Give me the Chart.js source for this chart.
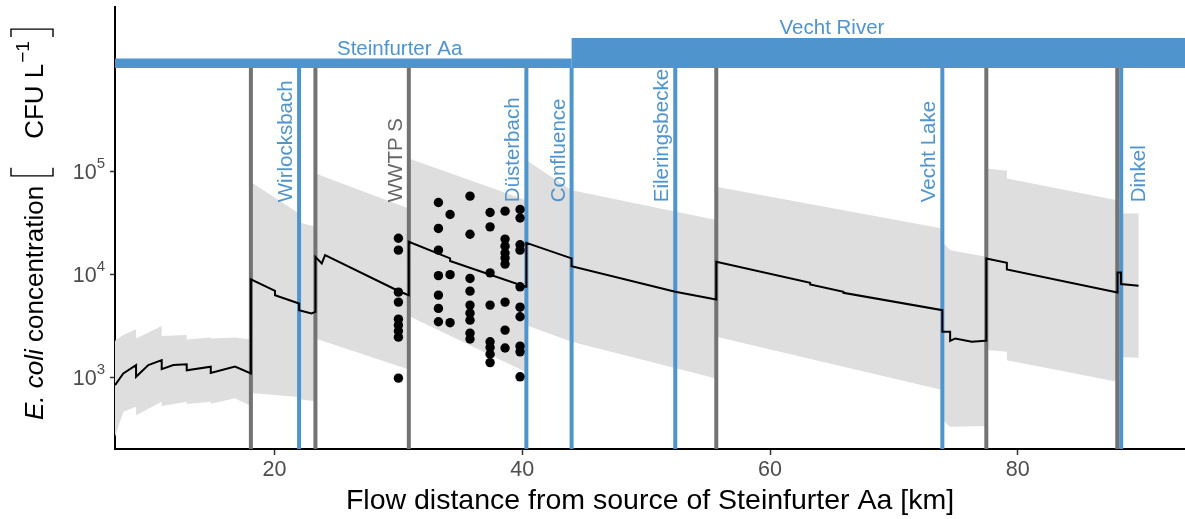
<!DOCTYPE html>
<html>
<head>
<meta charset="utf-8">
<script src="https://cdn.jsdelivr.net/npm/chart.js@4"></script>
<style>
  html, body { margin: 0; padding: 0; background: #fff; }
</style>
</head>
<body>
<canvas id="myChart" width="1185" height="519"></canvas>
<script>
// flow distance (km) along Steinfurter Aa -> Vecht, E. coli in CFU/L

// simulated median
const medianKm = [7.12, 7.79, 8.82, 8.82, 9.81, 10.89, 10.89, 11.83, 12.91, 12.91, 14.85, 14.85, 16.81, 18.09,
    18.09, 20.04, 20.04, 21.98, 21.98, 22.98, 23.30,
    23.30, 23.81, 24.08, 30.13, 30.84,
    30.84, 34.17, 34.17, 40.25, 40.33,
    40.33, 43.98, 43.98, 52.35, 55.66,
    55.66, 63.24, 63.24, 65.93, 65.93, 73.91,
    73.91, 74.54, 74.54, 74.95, 76.29, 77.37, 77.46,
    77.46, 79.12, 79.12, 88.05, 88.05, 88.33, 88.33, 89.75];
const medianConc = [848, 1100, 1325, 1020, 1325, 1480, 1210, 1325, 1350, 1180, 1280, 1110, 1280, 1100,
    8950, 6930, 6300, 5240, 4510, 4190, 4340,
    14800, 12800, 15400, 6800, 6300,
    20700, 14290, 13500, 7590, 7590,
    20200, 14300, 12000, 6800, 5730,
    13250, 8300, 7990, 6780, 6640, 4510,
    2780, 2780, 2275, 2400, 2230, 2275, 2275,
    14300, 12950, 11200, 6700, 10450, 10450, 8060, 7760];

// simulated uncertainty band
const bandKm = [7.12, 7.79, 8.82, 8.82, 10.89, 10.89, 12.91, 12.91, 14.85, 14.85, 16.81, 18.09,
    18.09, 21.98, 21.98, 23.30,
    23.30, 30.84,
    30.84, 40.33,
    40.33, 43.98, 55.66,
    55.66, 73.91,
    73.91, 74.54, 77.46,
    77.46, 79.12, 79.12, 88.03,
    88.03, 89.75];
const bandUpper = [2280, 2585, 2940, 2400, 3160, 2530, 2585, 2350, 2455, 2400, 2455, 2350,
    78700, 38900, 31800, 28900,
    95100, 43600,
    132700, 52400,
    127600, 65500, 33600,
    70500, 27900,
    20700, 17200, 14800,
    106000, 100700, 84900, 52400,
    38900, 38900];
const bandLower = [268, 468, 523, 434, 585, 531, 585, 555, 585, 560, 631, 531,
    710, 650, 620, 590,
    2400, 1200,
    3950, 1130,
    3230, 2230, 985,
    2490, 759,
    389, 335, 340,
    1850, 1780, 1480, 912,
    1590, 1560];

// measured samples
const obsKm = [30.0, 30.0, 30.0, 30.0, 30.0, 30.0, 30.0, 30.0, 30.0,
    33.23, 33.23, 33.23, 33.23, 33.23, 33.23, 33.23,
    34.17, 34.17, 34.17,
    35.78, 35.78, 35.78, 35.78, 35.78, 35.78, 35.78, 35.78, 35.78,
    37.40, 37.40, 37.40, 37.40, 37.40, 37.40, 37.40, 37.40,
    38.61, 38.61, 38.61, 38.61, 38.61, 38.61, 38.61, 38.61, 38.61,
    39.82, 39.82, 39.82, 39.82, 39.82, 39.82, 39.82, 39.82, 39.82, 39.82];
const obsConc = [22400, 17200, 6740, 5400, 3690, 3230, 2830, 2470, 990,
    49800, 27900, 17200, 9730, 6310, 4690, 3480,
    38100, 9960, 3410,
    57300, 24500, 9150, 6890, 5050, 4220, 3610, 2700, 2370,
    39800, 28900, 10360, 5050, 2230, 1960, 1690, 1400,
    41000, 22000, 18800, 16100, 14400, 12600, 5400, 2890, 1940,
    42600, 35200, 19400, 17200, 7590, 4820, 3890, 2020, 1780, 1020];

// point sources (grey) and tributaries / lake (blue)
const sourceKm = [18.09, 23.30, 30.84, 55.66, 77.46, 88.03];
const sourceNames = ['', '', 'WWTP S', '', '', ''];
const tribKm = [21.98, 40.33, 43.98, 52.35, 73.91, 88.35];
const tribNames = ['Wirlocksbach', 'Düsterbach', 'Confluence', 'Eileringsbecke', 'Vecht Lake', 'Dinkel'];
const tribSide = [-1, -1, -1, -1, -1, 1];

// river bars along the top
const riverNames = ['Steinfurter Aa', 'Vecht River'];
const riverFrom = [7.12, 43.98];
const riverTo = [43.98, 93.5];
const riverTop = [1.233e6, 1.95e6];
const riverLabelKm = [30.1, 65.0];

const xTicks = [20, 40, 60, 80];
const yTicks = [1e3, 1e4, 1e5];

const xMin = 7.12, xMax = 93.5;
const yMin = 204, yMax = 3.89e6;
const barBase = 1e6;
const labelStart = 5e4;

const FONT = "'Liberation Sans', Arial, sans-serif";
const BLUE = '#4f94cd';
const GREY = '#737373';

function pts(xs, ys) {
    return xs.map((x, i) => ({x: x, y: ys[i]}));
}

// band as closed polygon: upper forward, lower back
const bandPoly = pts(bandKm, bandUpper).concat(pts(bandKm, bandLower).reverse());

const datasets = [];
datasets.push({
    data: bandPoly, fill: 'shape', backgroundColor: '#dedede',
    borderWidth: 0, pointRadius: 0, order: 5
});
for (let i = 0; i < riverNames.length; i++) {
    datasets.push({
        data: [{x: riverFrom[i], y: barBase}, {x: riverTo[i], y: barBase},
               {x: riverTo[i], y: riverTop[i]}, {x: riverFrom[i], y: riverTop[i]}],
        fill: 'shape', backgroundColor: BLUE, borderWidth: 0, pointRadius: 0, order: 4
    });
}
sourceKm.forEach(km => {
    datasets.push({
        data: [{x: km, y: yMin / 2}, {x: km, y: barBase}],
        borderColor: GREY, borderWidth: 4, pointRadius: 0, fill: false, order: 3
    });
});
tribKm.forEach(km => {
    datasets.push({
        data: [{x: km, y: yMin / 2}, {x: km, y: barBase}],
        borderColor: BLUE, borderWidth: 4, pointRadius: 0, fill: false, order: 3
    });
});
datasets.push({
    data: pts(medianKm, medianConc), borderColor: '#000', borderWidth: 2,
    pointRadius: 0, fill: false, order: 1
});
datasets.push({
    data: pts(obsKm, obsConc), showLine: false, pointRadius: 4.7,
    pointBackgroundColor: '#000', pointBorderWidth: 0, order: 0
});

// names on the river bars and next to the vertical markers, y tick labels, y title
const annotations = {
    id: 'annotations',
    afterDatasetsDraw(chart) {
        const ctx = chart.ctx;
        const xs = chart.scales.x, ys = chart.scales.y;
        ctx.save();
        ctx.font = '20.5px ' + FONT;
        ctx.fillStyle = BLUE;
        ctx.textAlign = 'center';
        ctx.textBaseline = 'alphabetic';
        riverNames.forEach((name, i) => {
            ctx.fillText(name, xs.getPixelForValue(riverLabelKm[i]), ys.getPixelForValue(riverTop[i]) - 3.5);
        });

        const y0 = ys.getPixelForValue(labelStart);
        function vlabel(text, km, side, color) {
            const px = xs.getPixelForValue(km);
            ctx.save();
            ctx.translate(side < 0 ? px - 7 : px + 24, y0);
            ctx.rotate(-Math.PI / 2);
            ctx.fillStyle = color;
            ctx.textAlign = 'left';
            ctx.fillText(text, 0, 0);
            ctx.restore();
        }
        tribNames.forEach((n, i) => vlabel(n, tribKm[i], tribSide[i], BLUE));
        sourceNames.forEach((n, i) => { if (n) vlabel(n, sourceKm[i], -1, '#666'); });
        ctx.restore();
    },
    afterDraw(chart) {
        const ctx = chart.ctx;
        const ys = chart.scales.y;
        ctx.save();
        // 10^n tick labels
        ctx.fillStyle = '#4d4d4d';
        ctx.textAlign = 'right';
        ctx.textBaseline = 'alphabetic';
        yTicks.forEach(v => {
            const py = ys.getPixelForValue(v);
            const exp = String(Math.round(Math.log10(v)));
            ctx.font = '15px ' + FONT;
            ctx.fillText(exp, 105, py - 3.5);
            const w = ctx.measureText(exp).width;
            ctx.font = '21.5px ' + FONT;
            ctx.fillText('10', 105 - w, py + 7.7);
        });

        // rotated y title
        const size = 26;
        ctx.translate(43, 420);
        ctx.rotate(-Math.PI / 2);
        ctx.fillStyle = '#000';
        ctx.textAlign = 'left';
        let x = 0;
        ctx.font = 'italic ' + size + 'px ' + FONT;
        ctx.fillText('E. coli', x, 0);
        x += ctx.measureText('E. coli').width;
        ctx.font = size + 'px ' + FONT;
        ctx.fillText(' concentration', x, 0);
        x += ctx.measureText(' concentration').width + 10;

        // square brackets around the unit
        const top = -32, bot = 10, arm = 8;
        ctx.strokeStyle = '#000';
        ctx.lineWidth = 1.4;
        ctx.beginPath();
        ctx.moveTo(x + arm, top); ctx.lineTo(x, top); ctx.lineTo(x, bot); ctx.lineTo(x + arm, bot);
        ctx.stroke();
        x += 37;
        ctx.fillText('CFU L', x, 0);
        x += ctx.measureText('CFU L').width + 1;
        ctx.font = '19px ' + FONT;
        ctx.fillText('\u22121', x, -size * 0.55);
        x += ctx.measureText('\u22121').width + 12;
        ctx.beginPath();
        ctx.moveTo(x - arm, top); ctx.lineTo(x, top); ctx.lineTo(x, bot); ctx.lineTo(x - arm, bot);
        ctx.stroke();
        ctx.restore();
    }
};

const ctx = document.getElementById('myChart');
new Chart(ctx, {
    type: 'line',
    data: {datasets: datasets},
    plugins: [annotations],
    options: {
        responsive: false,
        animation: false,
        events: [],
        layout: {autoPadding: false, padding: {top: 7, right: 0, bottom: 0, left: 0}},
        plugins: {legend: {display: false}, tooltip: {enabled: false}},
        elements: {line: {tension: 0, borderCapStyle: 'butt'}},
        scales: {
            x: {
                type: 'linear', min: xMin, max: xMax,
                afterBuildTicks: s => { s.ticks = xTicks.map(v => ({value: v})); },
                afterFit: s => { s.height = 70; s.paddingLeft = 0; s.paddingRight = 0; },
                grid: {drawOnChartArea: false, drawTicks: true, tickLength: 6, tickColor: '#333', tickWidth: 1.5},
                border: {color: '#000', width: 2},
                ticks: {autoSkip: false, maxRotation: 0, padding: 2, color: '#4d4d4d',
                        font: {family: FONT, size: 21.5}},
                title: {display: true, text: 'Flow distance from source of Steinfurter Aa [km]',
                        color: '#000', font: {family: FONT, size: 28.5}, padding: {top: 0, bottom: 1}}
            },
            y: {
                type: 'logarithmic', min: yMin, max: yMax,
                afterBuildTicks: s => { s.ticks = yTicks.map(v => ({value: v})); },
                afterFit: s => { s.width = 115; s.paddingTop = 0; s.paddingBottom = 0; },
                grid: {drawOnChartArea: false, drawTicks: true, tickLength: 5, tickColor: '#333', tickWidth: 1.5},
                border: {color: '#000', width: 2},
                ticks: {display: false}
            }
        }
    }
});
</script>
</body>
</html>
